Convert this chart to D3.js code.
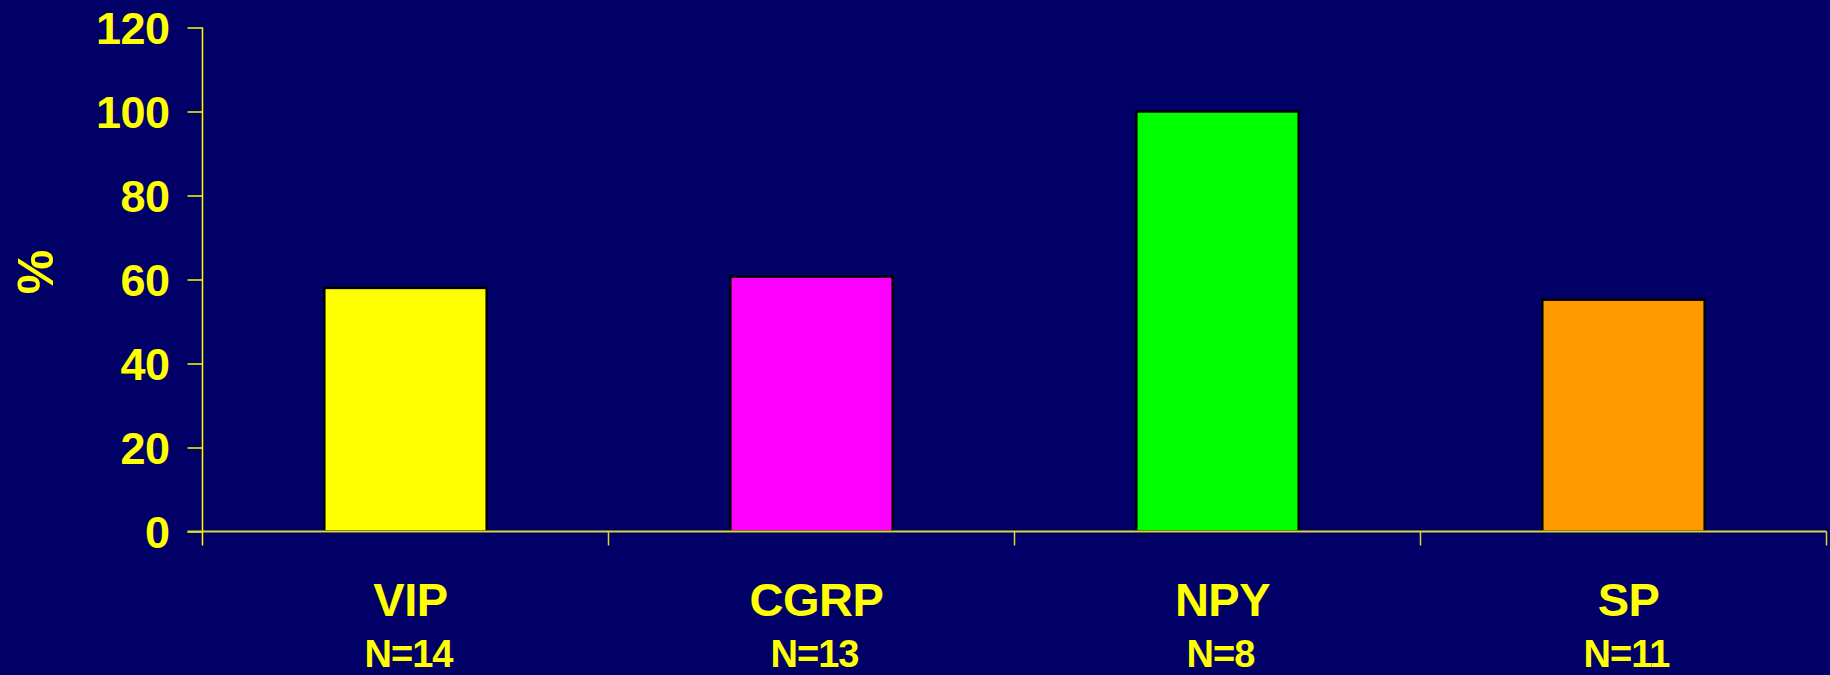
<!DOCTYPE html>
<html>
<head>
<meta charset="utf-8">
<script src="https://cdn.jsdelivr.net/npm/d3@7"></script>
<style>
  html, body { margin: 0; padding: 0; background: #000066; }
  svg { display: block; }
  text { font-family: "Liberation Sans", Arial, sans-serif; font-weight: bold; fill: #ffff00; }
</style>
</head>
<body>
<svg id="chart" width="1830" height="675"></svg>
<script>
// Share of neurons positive for each neuropeptide (%)
const categories = ["VIP", "CGRP", "NPY", "SP"];
const sampleSizes = ["N=14", "N=13", "N=8", "N=11"];
const percentValues = [58, 60.7, 100, 55.2];
const barColors = ["#ffff00", "#ff00ff", "#00ff00", "#ff9900"];
const yTicks = [0, 20, 40, 60, 80, 100, 120];

const svg = d3.select("#chart");
const W = 1830, H = 675;
const margin = { left: 202.5, right: 3.5, top: 27.5, bottom: 143.5 };

svg.append("rect").attr("width", W).attr("height", H).attr("fill", "#000066");

const x = d3.scaleBand()
  .domain(categories)
  .range([margin.left, W - margin.right])
  .padding(0);

const y = d3.scaleLinear()
  .domain([0, 120])
  .range([H - margin.bottom, margin.top]);

const barW = x.bandwidth() * 0.4;

// bars
svg.append("g").selectAll("rect")
  .data(categories)
  .join("rect")
  .attr("x", d => x(d) + x.bandwidth() / 2 - barW / 2)
  .attr("y", (d, i) => y(percentValues[i]))
  .attr("width", barW)
  .attr("height", (d, i) => y(0) - y(percentValues[i]))
  .attr("fill", (d, i) => barColors[i])
  .attr("stroke", "#000000")
  .attr("stroke-width", 2.5);

// y axis
const yAxis = svg.append("g")
  .attr("transform", `translate(${margin.left},0)`)
  .call(d3.axisLeft(y).tickValues(yTicks).tickSize(15).tickPadding(18).tickSizeOuter(0));
yAxis.select(".domain").remove();
yAxis.append("line")
  .attr("x1", 0).attr("x2", 0)
  .attr("y1", y(120)).attr("y2", y(0) + 14)
  .attr("stroke", "#ffff00").attr("stroke-width", 1.5);
yAxis.selectAll(".tick line").attr("stroke", "#ffff00").attr("stroke-width", 1.5);
yAxis.selectAll(".tick text")
  .attr("fill", "#ffff00")
  .style("font-size", "45px")
  .style("letter-spacing", "-0.5px")
  .attr("dy", "0.36em");

// x axis
const xAxis = svg.append("g")
  .attr("transform", `translate(0,${y(0)})`);
xAxis.append("line")
  .attr("x1", margin.left - 15).attr("x2", W - margin.right)
  .attr("stroke", "#d8d83a").attr("stroke-width", 2);
const boundaries = categories.map(c => x(c)).concat([x(categories[categories.length - 1]) + x.bandwidth()]);
xAxis.selectAll("line.sep")
  .data(boundaries.slice(1))
  .join("line")
  .attr("class", "sep")
  .attr("x1", d => d).attr("x2", d => d)
  .attr("y1", 0).attr("y2", 14)
  .attr("stroke", "#d8d83a").attr("stroke-width", 1.5);

// category labels
svg.append("g").selectAll("text")
  .data(categories)
  .join("text")
  .attr("x", d => x(d) + x.bandwidth() / 2 + 5)
  .attr("y", 616)
  .attr("text-anchor", "middle")
  .style("font-size", "47px")
  .style("letter-spacing", "-0.5px")
  .text(d => d);

// sample size labels
svg.append("g").selectAll("text")
  .data(categories)
  .join("text")
  .attr("x", d => x(d) + x.bandwidth() / 2 + 3)
  .attr("y", 667)
  .attr("text-anchor", "middle")
  .style("font-size", "38px")
  .style("letter-spacing", "-1px")
  .text((d, i) => sampleSizes[i]);

// y axis title
svg.append("text")
  .attr("transform", "translate(53,272) rotate(-90)")
  .attr("text-anchor", "middle")
  .style("font-size", "50px")
  .text("%");
</script>
</body>
</html>
